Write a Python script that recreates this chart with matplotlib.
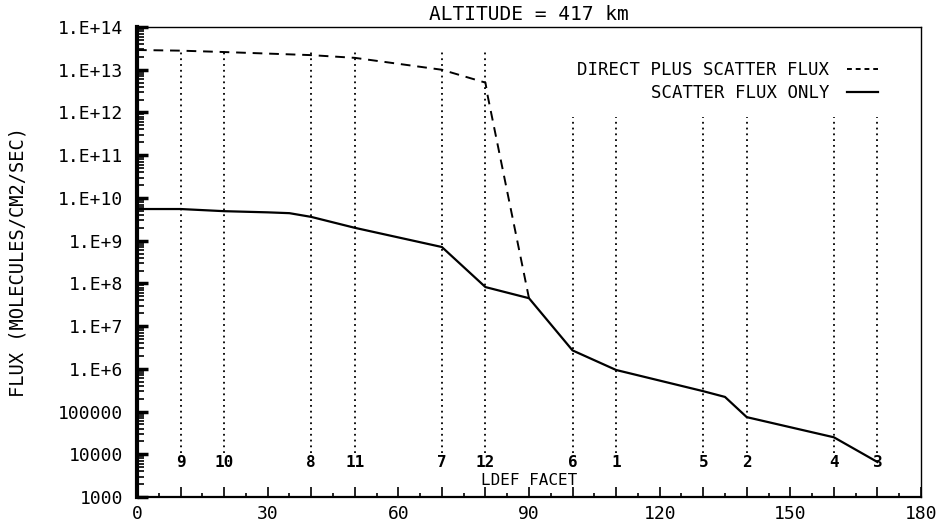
import matplotlib
matplotlib.use("Agg")
import matplotlib.pyplot as plt
from matplotlib.ticker import LogLocator, NullFormatter

# LDEF facet angles (deg) and facet numbers
facet_angle = [10, 20, 40, 50, 70, 80, 100, 110, 130, 140, 160, 170]
facet_label = ["9", "10", "8", "11", "7", "12", "6", "1", "5", "2", "4", "3"]
facet_top = [2.9e13] * 6 + [8.0e11] * 6
facet_bottom = 1.1e4

# direct plus scatter flux
direct_x = [0, 10, 20, 40, 50, 70, 80, 80.5, 90]
direct_y = [2.9e13, 2.8e13, 2.6e13, 2.2e13, 1.9e13, 1.0e13, 5.0e12, 2.5e12, 4.5e7]

# scatter flux only
scatter_x = [0, 10, 20, 30, 35, 40, 50, 70, 80, 90, 100, 110, 130, 135, 140, 160, 170]
scatter_y = [5.5e9, 5.5e9, 4.9e9, 4.6e9, 4.4e9, 3.6e9, 2.0e9, 7.1e8, 8.2e7, 4.5e7,
             2.7e6, 9.4e5, 3.0e5, 2.2e5, 7.4e4, 2.5e4, 6.6e3]

y_ticks = [1e3, 1e4, 1e5, 1e6, 1e7, 1e8, 1e9, 1e10, 1e11, 1e12, 1e13, 1e14]
y_tick_labels = ["1000", "10000", "100000", "1.E+6", "1.E+7", "1.E+8", "1.E+9",
                 "1.E+10", "1.E+11", "1.E+12", "1.E+13", "1.E+14"]
x_ticks = list(range(0, 181, 10))
x_tick_labels = [str(v) if v % 30 == 0 else "" for v in x_ticks]

font = "DejaVu Sans Mono"
plt.rcParams["font.family"] = font

fig = plt.figure(figsize=(9.37, 5.27), dpi=100)
ax = fig.add_axes([0.1462, 0.0569, 0.8367, 0.8918])
ax.set_yscale("log")
ax.set_xlim(0, 180)
ax.set_ylim(1e3, 1e14)

# vertical dotted facet lines with numbers
for a, lab, top in zip(facet_angle, facet_label, facet_top):
    ax.vlines(a, facet_bottom, top, colors="black", linestyles=(0, (1, 2.2)), linewidth=1.3)
    ax.text(a, 6.3e3, lab, ha="center", va="center", fontsize=11.5, fontweight="bold")

ax.plot(direct_x, direct_y, color="black", linestyle=(0, (5, 3.5)), linewidth=1.4,
        label="DIRECT PLUS SCATTER FLUX")
ax.plot(scatter_x, scatter_y, color="black", linestyle="-", linewidth=1.6,
        label="SCATTER FLUX ONLY")

leg = ax.legend(loc="upper right", bbox_to_anchor=(0.965, 0.96), frameon=False,
                markerfirst=False, handlelength=1.8, fontsize=12.5, labelspacing=0.25,
                handletextpad=1.0)
leg.get_lines()[0].set_linestyle((0, (2.5, 2)))

ax.set_xticks(x_ticks)
ax.set_xticklabels(x_tick_labels, fontsize=13)
ax.xaxis.set_minor_locator(plt.MultipleLocator(5))
ax.set_yticks(y_ticks)
ax.set_yticklabels(y_tick_labels, fontsize=13)
ax.yaxis.set_minor_locator(LogLocator(base=10, subs=range(2, 10), numticks=50))
ax.yaxis.set_minor_formatter(NullFormatter())

ax.tick_params(axis="x", which="major", direction="in", length=7, width=1.2, pad=6)
ax.tick_params(axis="y", which="major", direction="in", length=8, width=2.5, pad=10)
ax.tick_params(axis="x", which="minor", direction="in", length=3, width=1.2)
ax.tick_params(axis="y", which="minor", direction="in", length=5, width=1.2)

ax.spines["left"].set_linewidth(3)
ax.spines["bottom"].set_linewidth(1.6)
ax.spines["top"].set_linewidth(1.0)
ax.spines["right"].set_linewidth(1.0)

ax.set_ylabel("FLUX (MOLECULES/CM2/SEC)", fontsize=13.5, labelpad=22)
ax.text(0.5, 0.035, "LDEF FACET", transform=ax.transAxes, ha="center", va="center",
        fontsize=11.5)
ax.set_title("ALTITUDE = 417 km", fontsize=14, pad=5)

fig.savefig("out.png", dpi=100)
